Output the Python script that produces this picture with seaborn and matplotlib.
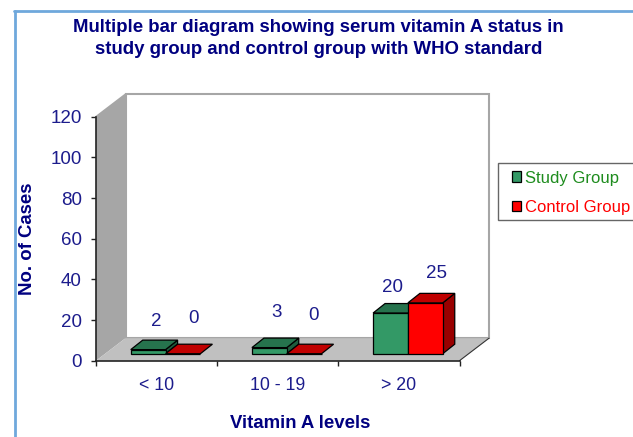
import pandas as pd
import matplotlib
matplotlib.use("Agg")
import matplotlib.pyplot as plt
import seaborn as sns
from matplotlib.patches import Polygon, Rectangle
from matplotlib.transforms import IdentityTransform, ScaledTranslation

# Data
LEVELS = ['< 10', '10 - 19', '> 20']
STUDY_GROUP = [2, 3, 20]
CONTROL_GROUP = [0, 0, 25]
GROUP_NAMES = ['Study Group', 'Control Group']
Y_TICKS = [0, 20, 40, 60, 80, 100, 120]

NAVY = '#000080'
TICK_BLUE = '#1c1c8c'
FRONT = {'Study Group': '#339966', 'Control Group': '#FF0000'}
TOP = {'Study Group': '#26734D', 'Control Group': '#BF0000'}
SIDE = {'Study Group': '#1F5C3D', 'Control Group': '#990000'}
TEXT_COL = {'Study Group': '#1E8C1E', 'Control Group': '#FF0000'}

W, H = 633, 437
sns.set_style('white')
plt.rcParams['font.family'] = ['Liberation Sans', 'DejaVu Sans']

df = pd.DataFrame({
    'level': LEVELS * 2,
    'cases': STUDY_GROUP + CONTROL_GROUP,
    'group': [GROUP_NAMES[0]] * 3 + [GROUP_NAMES[1]] * 3,
})

fig = plt.figure(figsize=(W / 100, H / 100), dpi=100)
ax = fig.add_axes([96 / W, (H - 360.7) / H, 363.5 / W, 244 / H])
ax.patch.set_visible(False)

sns.barplot(data=df, x='level', y='cases', hue='group', palette=FRONT, width=0.575, gap=0,
            edgecolor='black', linewidth=0.9, saturation=1, legend=False, ax=ax)
ax.set_xlim(-0.5, 2.5)
ax.set_ylim(0, 120)
ax.set_yticks(Y_TICKS)
ax.set_xticks([-0.5, 0.5, 1.5, 2.5])
ax.set_xticklabels([])
ax.tick_params(axis='both', length=3.6, width=1, color='#222222', bottom=True, left=True)
ax.tick_params(axis='y', labelsize=13.5, labelcolor=TICK_BLUE, pad=6.6)
for s in ['top', 'right']:
    ax.spines[s].set_visible(False)
for s in ['left', 'bottom']:
    ax.spines[s].set_color('#222222')
    ax.spines[s].set_linewidth(1.2)
    ax.spines[s].set_zorder(20)

for i, lab in enumerate(LEVELS):
    ax.annotate(lab, (i, 0), xytext=(0, -16), textcoords='offset pixels', ha='center', va='top',
                fontsize=12.8, color=TICK_BLUE, annotation_clip=False)


def add_poly(points, color, edge='none', lw=0, z=1):
    ax.add_patch(Polygon(points, closed=True, facecolor=color, edgecolor=edge, linewidth=lw,
                         transform=IdentityTransform(), clip_on=False, zorder=z))


# walls and floor, in pixels from the axes box
DX, DY = 29.5, 22.5
(x0, y0), (x1, y1) = ax.transAxes.transform([(0, 0), (1, 1)])
add_poly([(x0 + DX, y0 + DY), (x1 + DX, y0 + DY), (x1 + DX, y1 + DY), (x0 + DX, y1 + DY)], 'white', '#A6A6A6', 1.5, 0.5)
add_poly([(x0, y0), (x0 + DX, y0 + DY), (x0 + DX, y1 + DY), (x0, y1)], '#A6A6A6', 'none', 0, 0.6)
ax.plot([x0, x0 + DX], [y1, y1 + DY], color='#A6A6A6', lw=1.2, transform=IdentityTransform(), clip_on=False, zorder=0.7)
add_poly([(x0, y0), (x1, y0), (x1 + DX, y0 + DY), (x0 + DX, y0 + DY)], '#C0C0C0', 'none', 0, 0.8)
ax.plot([x1, x1 + DX], [y0, y0 + DY], color='#333333', lw=0.8, transform=IdentityTransform(), clip_on=False, zorder=0.9)

# 3D bars: front face from seaborn, shifted onto the floor; top and side added per bar
SHIFT = (9, 7)
DEPTH = (12, 9.5)
shift_tf = ScaledTranslation(SHIFT[0] / 100, SHIFT[1] / 100, fig.dpi_scale_trans)
z = 2
for group, container in zip(GROUP_NAMES, ax.containers):
    for bar in container:
        (a, b), (c, d) = ax.transData.transform([(bar.get_x(), 0), (bar.get_x() + bar.get_width(), bar.get_height())])
        a, c = a + SHIFT[0], c + SHIFT[0]
        b, d = b + SHIFT[1], d + SHIFT[1]
        if bar.get_height() > 0:
            add_poly([(c, b), (c + DEPTH[0], b + DEPTH[1]), (c + DEPTH[0], d + DEPTH[1]), (c, d)], SIDE[group], 'black', 0.9, z)
        top_col = TOP[group] if bar.get_height() > 0 else '#C00000'
        add_poly([(a, d), (c, d), (c + DEPTH[0], d + DEPTH[1]), (a + DEPTH[0], d + DEPTH[1])], top_col, 'black', 0.9, z + 0.1)
        bar.set_transform(ax.transData + shift_tf)
        bar.set_clip_on(False)
        bar.set_zorder(z + 0.2)
        z += 1

# value labels, pixel offsets from the bar's top centre
STUDY_LABEL_PX = [(17, 35.2), (16, 42.1), (11, 32.5)]
CONTROL_LABEL_PX = [(19.5, 42.2), (18, 44.7), (20, 36.2)]
for container, vals, offs in zip(ax.containers, [STUDY_GROUP, CONTROL_GROUP], [STUDY_LABEL_PX, CONTROL_LABEL_PX]):
    for bar, v, off in zip(container, vals, offs):
        ax.annotate(str(v), (bar.get_x() + bar.get_width() / 2, v), xytext=off,
                    textcoords='offset pixels', ha='center', va='center', fontsize=13.5,
                    color=TICK_BLUE, annotation_clip=False, zorder=50)

ax.set_xlabel('')
ax.set_ylabel('')
fig.text(300.5 / W, 1 - 424 / H, 'Vitamin A levels', ha='center', va='center', fontsize=13.4, fontweight='bold', color=NAVY)
fig.text(28 / W, 1 - 239 / H, 'No. of Cases', ha='center', va='center', rotation=90, fontsize=13.4, fontweight='bold', color=NAVY)
fig.text(318.5 / W, 1 - 32.3 / H, 'Multiple bar diagram showing serum vitamin A status in', ha='center', va='baseline', fontsize=13.45, fontweight='bold', color=NAVY)
fig.text(318.5 / W, 1 - 54.3 / H, 'study group and control group with WHO standard', ha='center', va='baseline', fontsize=13.45, fontweight='bold', color=NAVY)

# legend box runs off the right edge, as in the reference
fig.add_artist(Rectangle((498 / W, 1 - 220 / H), 140 / W, 57.3 / H, transform=fig.transFigure,
                         facecolor='white', edgecolor='#666666', linewidth=1, zorder=3))
leg = fig.legend(handles=[c[0] for c in ax.containers], labels=GROUP_NAMES, loc='upper left',
                 bbox_to_anchor=(511.5 / W, 1 - 170.5 / H), frameon=False, fontsize=12,
                 handlelength=0.57, handleheight=0.57, handletextpad=0.25, labelspacing=0.86,
                 borderpad=0, borderaxespad=0)
leg.set_zorder(4)
for txt, name in zip(leg.get_texts(), GROUP_NAMES):
    txt.set_color(TEXT_COL[name])

# blue slide frame
fig.add_artist(plt.Line2D([14.5 / W, 14.5 / W], [0, 1 - 11 / H], color='#6FA8DC', lw=2))
fig.add_artist(plt.Line2D([13.5 / W, 1], [1 - 11 / H, 1 - 11 / H], color='#6FA8DC', lw=2))

fig.savefig('out.png', dpi=100)
